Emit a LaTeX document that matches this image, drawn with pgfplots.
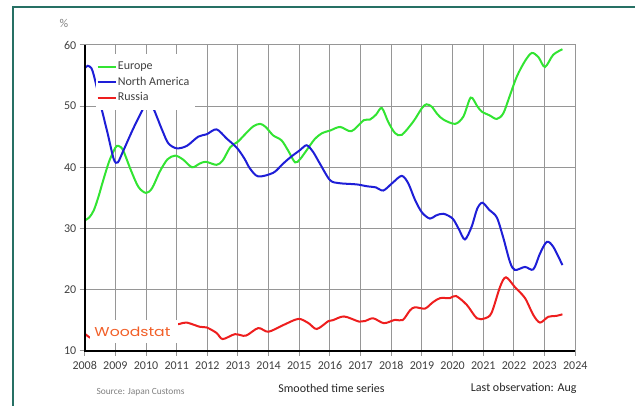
\documentclass[border=0pt]{standalone}
\usepackage{fontspec}
\setmainfont{Carlito}
\newfontfamily\logofont{Poppins}
\usepackage{graphicx}
\usepackage{pgfplots}
\usepackage{pgfplotstable}
\pgfplotsset{compat=1.18}

\definecolor{eugreen}{RGB}{50,228,50}
\definecolor{nablue}{RGB}{30,30,215}
\definecolor{rured}{RGB}{238,30,30}
\definecolor{gridgray}{RGB}{150,150,150}
\definecolor{labelgray}{RGB}{64,64,64}
\definecolor{frameteal}{RGB}{38,112,100}
\definecolor{woodorange}{RGB}{242,95,40}

% Europe share, %
\pgfplotstableread{
yr v
2008.00 31.3
2008.15 31.8
2008.30 33.0
2008.45 35.2
2008.60 37.8
2008.80 41.0
2009.00 43.2
2009.10 43.5
2009.25 42.8
2009.50 39.6
2009.75 36.8
2010.00 35.8
2010.20 36.6
2010.45 39.3
2010.70 41.3
2010.95 41.9
2011.20 41.3
2011.50 40.0
2011.75 40.6
2011.95 40.9
2012.30 40.4
2012.50 41.1
2012.75 43.3
2013.00 44.2
2013.25 45.5
2013.50 46.7
2013.72 47.1
2013.90 46.6
2014.15 45.2
2014.42 44.4
2014.65 42.6
2014.86 40.8
2015.02 41.3
2015.24 42.8
2015.50 44.6
2015.75 45.6
2016.00 46.0
2016.33 46.6
2016.70 45.9
2017.10 47.7
2017.30 47.8
2017.50 48.6
2017.69 49.7
2017.90 47.4
2018.12 45.6
2018.34 45.3
2018.72 47.5
2019.00 49.7
2019.15 50.3
2019.32 49.9
2019.50 48.7
2019.70 47.8
2020.08 47.1
2020.35 48.3
2020.59 51.4
2020.80 50.0
2020.95 49.1
2021.20 48.5
2021.44 47.9
2021.65 48.8
2021.85 51.5
2022.09 54.8
2022.35 57.3
2022.58 58.7
2022.80 58.0
2023.01 56.4
2023.28 58.4
2023.58 59.3
}\europe

% North America share, %
\pgfplotstableread{
yr v
2008.00 56.2
2008.10 56.6
2008.22 56.2
2008.30 55.0
2008.42 52.5
2008.55 49.6
2008.75 45.5
2008.95 41.3
2009.08 40.8
2009.25 42.6
2009.59 46.4
2009.91 49.6
2010.07 50.6
2010.24 49.6
2010.35 48.3
2010.55 45.8
2010.73 43.9
2011.00 43.1
2011.33 43.5
2011.70 45.0
2011.98 45.4
2012.30 46.2
2012.63 44.7
2012.96 43.2
2013.20 41.5
2013.39 39.8
2013.66 38.5
2014.15 39.1
2014.45 40.5
2014.70 41.6
2015.02 42.8
2015.24 43.6
2015.45 42.5
2015.67 40.6
2016.00 37.9
2016.30 37.4
2016.87 37.2
2017.20 36.9
2017.50 36.7
2017.74 36.2
2018.05 37.5
2018.34 38.6
2018.55 37.4
2018.77 34.7
2019.00 32.6
2019.26 31.6
2019.45 32.1
2019.70 32.4
2020.00 31.6
2020.20 29.9
2020.40 28.2
2020.62 30.3
2020.80 33.2
2020.97 34.2
2021.20 33.0
2021.44 31.8
2021.65 28.5
2021.87 24.5
2022.03 23.2
2022.36 23.7
2022.63 23.3
2022.85 25.9
2023.07 27.8
2023.28 27.0
2023.58 24.0
}\namerica

% Russia share, % (start, then after the logo)
\pgfplotstableread{
yr v
2008.00 12.8
2008.15 12.2
2008.30 11.9
}\russiaA

\pgfplotstableread{
yr v
2010.90 14.2
2011.11 14.4
2011.33 14.6
2011.76 13.9
2011.98 13.8
2012.30 12.9
2012.50 11.9
2012.90 12.7
2013.25 12.45
2013.66 13.7
2013.99 13.1
2014.48 14.2
2014.97 15.2
2015.30 14.5
2015.57 13.55
2015.95 14.85
2016.10 15.0
2016.46 15.6
2016.95 14.75
2017.14 14.85
2017.41 15.3
2017.76 14.5
2018.12 15.05
2018.37 15.0
2018.61 16.6
2018.77 17.1
2019.10 16.9
2019.35 17.9
2019.59 18.6
2019.91 18.6
2020.11 18.95
2020.46 17.5
2020.79 15.3
2021.06 15.3
2021.27 16.2
2021.55 20.5
2021.74 22.0
2022.03 20.4
2022.36 18.6
2022.63 15.85
2022.85 14.6
2023.12 15.55
2023.39 15.7
2023.58 15.95
}\russiaB

\begin{document}
\begin{tikzpicture}[x=1pt,y=1pt]
\useasboundingbox (0,0) rectangle (635,406);
\draw[frameteal, line width=1.2pt] (13,-5) -- (13,399) -- (650,399);

\begin{axis}[
  at={(84.7pt,55.3pt)}, anchor=south west,
  scale only axis, width=490.6pt, height=305.7pt,
  xmin=2008, xmax=2024, ymin=10, ymax=60,
  xtick={2008,...,2024}, ytick={10,20,...,60},
  scaled x ticks=false,
  grid=major, grid style={gridgray, line width=1pt},
  axis line style={gridgray, line width=1pt},
  tick pos=left, tick align=outside, major tick length=5pt,
  tick style={gridgray, line width=1pt},
  /pgf/number format/assume math mode=true,
  x tick label style={/pgf/number format/1000 sep={}, yshift=-2pt},
  ticklabel style={font=\fontsize{12}{14}\selectfont, text=labelgray},
  clip=false,
  no markers,
  every axis plot/.append style={line width=2pt, smooth},
  legend cell align=left,
  legend image code/.code={\draw[#1, line width=2pt] (0pt,0pt) -- (18pt,0pt);},
  legend style={at={(axis description cs:0.022,0.970)}, anchor=north west,
    fill=white, draw=none, inner xsep=1pt, inner ysep=4.75pt,
    font=\fontsize{12}{14}\selectfont, text=labelgray,
    nodes={inner sep=1.2pt, text height=9.5pt, text depth=3.6pt},
    /tikz/every even column/.append style={column sep=3pt}},
]
\addplot[eugreen] table[x=yr, y=v] {\europe};
\addlegendentry{Europe}
\addplot[nablue] table[x=yr, y=v] {\namerica};
\addlegendentry{North America\hspace*{3pt}}
\addplot[rured, forget plot] table[x=yr, y=v] {\russiaA};
\addplot[rured] table[x=yr, y=v] {\russiaB};
\addlegendentry{Russia}

% logo panel over the early Russia line
\fill[white] (rel axis cs:0.0108,0.0252) rectangle (rel axis cs:0.190,0.1004);
\node[text=woodorange, inner sep=0pt] at (rel axis cs:0.0974,0.0602)
  {\resizebox{76pt}{9.5pt}{\logofont Woodstat}};

% black left and bottom axis lines
\draw[black, line width=2pt] (rel axis cs:0,1) -- (rel axis cs:0,0) -- (rel axis cs:1,0);
\end{axis}

\node[text=gray, font=\fontsize{12}{14}\selectfont] at (64,383) {\%};
\node[anchor=west, text=gray, font=\fontsize{9.4}{11}\selectfont] at (93,14) {Source: Japan Customs};
\node[text=black!85, font=\fontsize{12}{14}\selectfont] at (331.5,17.3) {Smoothed time series};
\node[anchor=east, text=black!85, font=\fontsize{12}{14}\selectfont] at (580,17.3) {Last observation: Aug};
\end{tikzpicture}
\end{document}
